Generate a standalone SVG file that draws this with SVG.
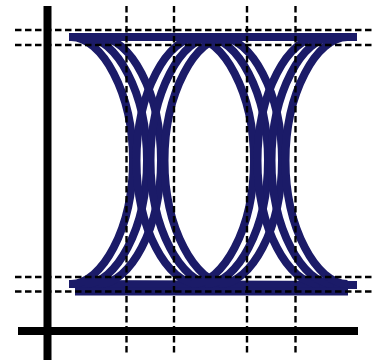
<svg xmlns="http://www.w3.org/2000/svg" width="375" height="360" viewBox="0 0 375 360">
<style>
.axis{stroke:#000;stroke-width:8;fill:none}
.grid{stroke:#000;stroke-width:2.4;stroke-dasharray:6.5 3.5;fill:none}
.sig{stroke:#1b1b68;stroke-width:8;fill:none}
</style>
<rect width="375" height="360" fill="#fff"/>
<g id="axes">
<line class="axis" x1="47.5" y1="6" x2="47.5" y2="360"/>
<line class="axis" x1="18" y1="331" x2="358" y2="331"/>
</g>
<g id="eye">
<line class="sig" x1="69" y1="37" x2="357" y2="37"/>
<line class="sig" x1="69" y1="284" x2="357" y2="285"/>
<line class="sig" x1="75" y1="291.5" x2="348" y2="291.5"/>
<path class="sig" d="M71 37C102 37 133 92.6 133 160.5C133 228.4 102 284 71 284"/>
<path class="sig" d="M85 37C116 37 147 92.6 147 160.5C147 228.4 116 284 85 284"/>
<path class="sig" d="M99 37C130 37 161 92.6 161 160.5C161 228.4 130 284 99 284"/>
<path class="sig" d="M198.5 37C167.5 37 136.5 92.6 136.5 160.5C136.5 228.4 167.5 284 198.5 284"/>
<path class="sig" d="M212.5 37C181.5 37 150.5 92.6 150.5 160.5C150.5 228.4 181.5 284 212.5 284"/>
<path class="sig" d="M226.5 37C195.5 37 164.5 92.6 164.5 160.5C164.5 228.4 195.5 284 226.5 284"/>
<path class="sig" d="M192 37C223 37 254 92.6 254 160.5C254 228.4 223 284 192 284"/>
<path class="sig" d="M206 37C237 37 268 92.6 268 160.5C268 228.4 237 284 206 284"/>
<path class="sig" d="M220 37C251 37 282 92.6 282 160.5C282 228.4 251 284 220 284"/>
<path class="sig" d="M319.5 37C288.5 37 257.5 92.6 257.5 160.5C257.5 228.4 288.5 284 319.5 284"/>
<path class="sig" d="M333.5 37C302.5 37 271.5 92.6 271.5 160.5C271.5 228.4 302.5 284 333.5 284"/>
<path class="sig" d="M347.5 37C316.5 37 285.5 92.6 285.5 160.5C285.5 228.4 316.5 284 347.5 284"/>
</g>
<g id="grid">
<line class="grid" x1="15" y1="30" x2="375" y2="30"/>
<line class="grid" x1="15" y1="45" x2="375" y2="45"/>
<line class="grid" x1="15" y1="277" x2="375" y2="277"/>
<line class="grid" x1="15" y1="291.5" x2="375" y2="291.5"/>
<line class="grid" x1="126.5" y1="6" x2="126.5" y2="355"/>
<line class="grid" x1="174" y1="6" x2="174" y2="355"/>
<line class="grid" x1="247" y1="6" x2="247" y2="355"/>
<line class="grid" x1="295.5" y1="6" x2="295.5" y2="355"/>
</g>
</svg>
